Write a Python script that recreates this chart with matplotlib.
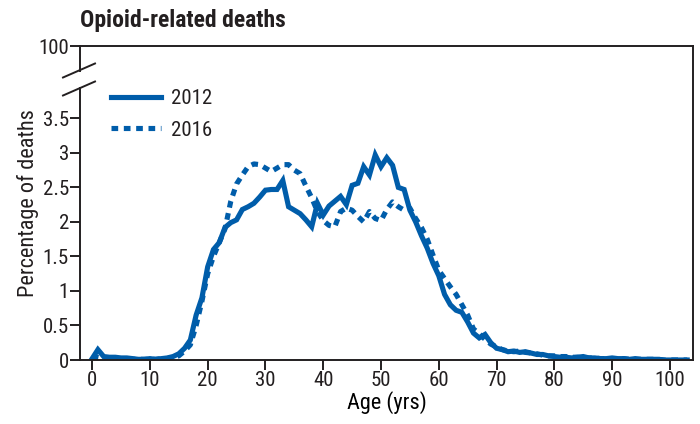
import numpy as np
import matplotlib
matplotlib.use('Agg')
import matplotlib.pyplot as plt
from matplotlib.lines import Line2D
from matplotlib import font_manager

# ---- data ----
ages = np.arange(0, 104)

deaths_2012 = [0.02, 0.15, 0.05, 0.04, 0.04, 0.03, 0.03, 0.02, 0.01, 0.01,
               0.02, 0.01, 0.02, 0.03, 0.05, 0.09, 0.17, 0.29, 0.65, 0.90,
               1.35, 1.60, 1.70, 1.92, 1.99, 2.03, 2.18, 2.22, 2.27, 2.36,
               2.46, 2.47, 2.47, 2.60, 2.22, 2.17, 2.12, 2.03, 1.93, 2.27,
               2.10, 2.23, 2.30, 2.37, 2.25, 2.53, 2.56, 2.80, 2.68, 2.97,
               2.80, 2.93, 2.82, 2.50, 2.47, 2.17, 2.00, 1.80, 1.62, 1.40,
               1.22, 0.95, 0.80, 0.72, 0.69, 0.55, 0.39, 0.32, 0.37, 0.25,
               0.17, 0.15, 0.12, 0.13, 0.11, 0.12, 0.10, 0.08, 0.08, 0.06,
               0.05, 0.04, 0.04, 0.03, 0.04, 0.05, 0.03, 0.03, 0.02, 0.02,
               0.03, 0.02, 0.02, 0.01, 0.02, 0.01, 0.01, 0.01, 0.01, 0.00,
               0.00, 0.00, 0.00, 0.00]

deaths_2016 = [0.01, 0.04, 0.02, 0.02, 0.01, 0.01, 0.01, 0.01, 0.01, 0.01,
               0.01, 0.01, 0.02, 0.02, 0.04, 0.06, 0.13, 0.22, 0.50, 0.85,
               1.25, 1.50, 1.70, 1.90, 2.30, 2.55, 2.68, 2.80, 2.84, 2.83,
               2.78, 2.73, 2.78, 2.83, 2.83, 2.75, 2.70, 2.52, 2.35, 2.15,
               2.02, 1.95, 1.93, 2.15, 2.20, 2.17, 2.08, 2.00, 2.15, 2.05,
               2.02, 2.18, 2.29, 2.22, 2.17, 2.20, 2.05, 1.92, 1.75, 1.52,
               1.30, 1.18, 1.06, 0.95, 0.80, 0.65, 0.45, 0.38, 0.30, 0.23,
               0.19, 0.15, 0.13, 0.12, 0.13, 0.11, 0.10, 0.09, 0.07, 0.06,
               0.06, 0.05, 0.05, 0.04, 0.04, 0.03, 0.03, 0.03, 0.02, 0.02,
               0.02, 0.02, 0.02, 0.01, 0.01, 0.01, 0.01, 0.01, 0.01, 0.00,
               0.00, 0.00, 0.00, 0.00]

x_ticks = list(range(0, 101, 10))
y_ticks = [0, 0.5, 1, 1.5, 2, 2.5, 3, 3.5]
y_tick_labels = ['0', '0.5', '1', '1.5', '2', '2.5', '3', '3.5']

blue = '#005daa'
dark = '#231f20'

# narrow font if there is one
names = {f.name for f in font_manager.fontManager.ttflist}
narrow = [n for n in ['Liberation Sans Narrow', 'Roboto Condensed', 'Open Sans Condensed',
                      'DejaVu Sans Condensed'] if n in names]
plt.rcParams['font.family'] = narrow + ['DejaVu Sans']
plt.rcParams['font.stretch'] = 'condensed'
plt.rcParams['font.size'] = 15
plt.rcParams['text.color'] = dark

fig = plt.figure(figsize=(7, 4.24), dpi=100)

left = 80 / 700
width = (693 - 80) / 700
ax = fig.add_axes([left, 64 / 424, width, 272 / 424])        # lower part 0-3.9
ax_top = fig.add_axes([left, 353 / 424, width, 25 / 424])    # upper part, only 100
frame = fig.add_axes([left, 64 / 424, width, 314 / 424])     # right spine over full height
frame.patch.set_visible(False)
frame.set_xticks([])
frame.set_yticks([])
for s in ['left', 'top', 'bottom']:
    frame.spines[s].set_visible(False)
frame.spines['right'].set_linewidth(1.4)
frame.spines['right'].set_color(dark)

ax.plot(ages, deaths_2012, color=blue, lw=3.7, solid_joinstyle='miter', label='2012')
ax.plot(ages, deaths_2016, color=blue, lw=3.7, linestyle=(0, (1.3, 1.1)),
        dash_capstyle='butt', label='2016')

ax.set_xlim(-2.1, 104)
ax.set_ylim(0, 3.94)
ax.set_xticks(x_ticks)
ax.set_yticks(y_ticks)
ax.set_yticklabels(y_tick_labels)
ax.spines['top'].set_visible(False)
ax.spines['right'].set_visible(False)
ax.set_xlabel('Age (yrs)', fontsize=16, labelpad=1)

ax_top.set_xlim(-2.1, 104)
ax_top.set_ylim(99.5, 100)
ax_top.set_yticks([100])
ax_top.set_yticklabels(['100'])
ax_top.set_xticks([])
ax_top.spines['bottom'].set_visible(False)
ax_top.spines['right'].set_visible(False)
ax_top.patch.set_visible(False)

for a in (ax, ax_top):
    for s in a.spines.values():
        s.set_linewidth(1.4)
        s.set_color(dark)
    a.tick_params(direction='out', length=7, width=1.4, color=dark,
                  labelcolor=dark, labelsize=15, pad=1)

# break marks on the left axis
for yb in (70.5, 88.5):
    fig.add_artist(Line2D([63 / 700, 95 / 700],
                          [1 - (yb + 7) / 424, 1 - (yb - 7) / 424],
                          color=dark, lw=1.4, transform=fig.transFigure))

ax.legend(loc='upper left', bbox_to_anchor=(0.02, 1.065), frameon=False,
          handlelength=2.4, handletextpad=0.5, labelspacing=0.6, fontsize=15)

fig.text(28 / 700, 1 - 203 / 424, 'Percentage of deaths', rotation=90,
         ha='center', va='center', fontsize=16)
fig.text(80 / 700, 1 - 20 / 424, 'Opioid-related deaths', ha='left',
         va='center', fontsize=17, fontweight='bold')

fig.savefig('out.png', dpi=100)
